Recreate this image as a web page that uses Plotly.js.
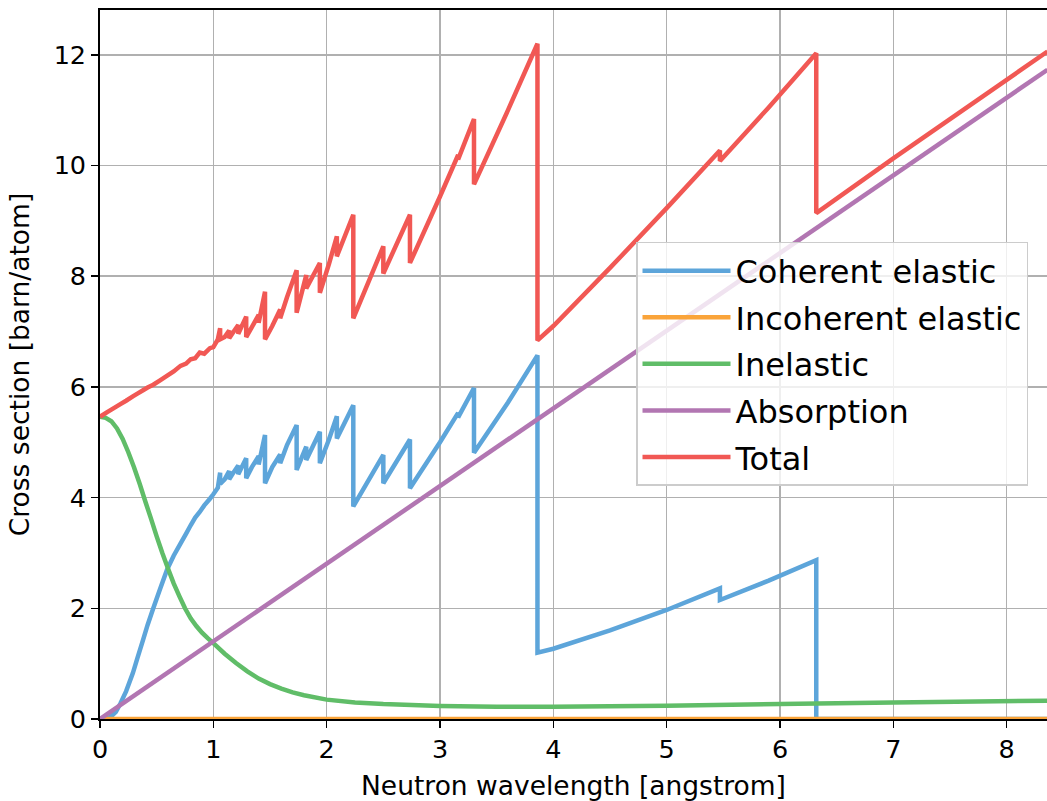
<!DOCTYPE html>
<html>
<head>
<meta charset="utf-8">
<script src="https://cdn.plot.ly/plotly-3.0.1.min.js"></script>
<style>html,body{margin:0;padding:0;background:#fff;}#chart{width:1047px;height:801px;}</style>
</head>
<body>
<div id="chart"></div>
<script>
// Neutron wavelength grid [angstrom] for coherent elastic and total (repeated values = Bragg edges)
const wavelength = [
  0, 0.06, 0.10, 0.14, 0.18, 0.23, 0.29, 0.33, 0.38, 0.42, 0.47, 0.53, 0.59, 0.65, 0.71, 0.76, 0.80,
  0.84, 0.88, 0.92, 0.97, 1.00, 1.04,
  1.06, 1.06, 1.10, 1.14, 1.14, 1.18, 1.22, 1.22, 1.29, 1.29, 1.34, 1.40, 1.40, 1.456, 1.456,
  1.52, 1.59, 1.59, 1.65, 1.735, 1.735, 1.82, 1.82, 1.94, 1.94, 2.02, 2.09, 2.09, 2.235, 2.235,
  2.50, 2.50, 2.735, 2.735, 3.00, 3.16, 3.16, 3.30, 3.30, 3.60, 3.86, 3.86,
  4.00, 4.50, 5.00, 5.47, 5.47, 5.90, 6.32, 6.32, 7.00, 8.36
];
const coherentElastic = [
  0, 0, 0.05, 0.13, 0.28, 0.50, 0.83, 1.10, 1.43, 1.70, 2.00, 2.35, 2.69, 2.95, 3.17, 3.35, 3.50,
  3.64, 3.74, 3.86, 3.98, 4.06, 4.18,
  4.45, 4.25, 4.33, 4.48, 4.33, 4.46, 4.58, 4.42, 4.71, 4.35, 4.55, 4.75, 4.60, 5.13, 4.26,
  4.55, 4.78, 4.62, 4.95, 5.31, 4.50, 4.92, 4.68, 5.19, 4.62, 5.05, 5.47, 5.07, 5.67, 3.84,
  4.77, 4.26, 5.05, 4.17, 5.00, 5.53, 5.45, 5.98, 4.81, 5.72, 6.57, 1.20,
  1.27, 1.60, 1.97, 2.36, 2.15, 2.50, 2.87, 0, 0, 0
];
const total = [
  5.46, 5.54, 5.59, 5.64, 5.69, 5.75, 5.83, 5.88, 5.94, 5.99, 6.04, 6.12, 6.20, 6.28, 6.38, 6.42, 6.50,
  6.52, 6.62, 6.60, 6.70, 6.72, 6.86,
  7.06, 6.86, 6.90, 7.02, 6.88, 7.00, 7.12, 6.96, 7.27, 6.90, 7.08, 7.30, 7.16, 7.72, 6.86,
  7.10, 7.40, 7.24, 7.62, 8.11, 7.34, 8.02, 7.78, 8.24, 7.70, 8.22, 8.72, 8.36, 9.11, 7.24,
  8.54, 8.05, 9.11, 8.24, 9.44, 10.19, 10.11, 10.84, 9.66, 11.00, 12.20, 6.84,
  7.10, 8.15, 9.23, 10.27, 10.08, 11.05, 12.03, 9.14, 10.13, 12.06
];
// Inelastic has its own (smooth) wavelength grid
const inelasticWavelength = [
  0, 0.05, 0.10, 0.15, 0.20, 0.25, 0.30, 0.35, 0.40, 0.45, 0.50, 0.55, 0.60, 0.65, 0.70, 0.75, 0.80,
  0.85, 0.90, 0.95, 1.00, 1.10, 1.20, 1.30, 1.40, 1.50, 1.60, 1.70, 1.80, 2.00, 2.25, 2.50, 3.00,
  3.50, 4.00, 5.00, 6.00, 7.00, 8.36
];
const inelastic = [
  5.46, 5.44, 5.38, 5.25, 5.06, 4.82, 4.55, 4.25, 3.93, 3.62, 3.30, 3.00, 2.72, 2.45, 2.22, 2.00, 1.82,
  1.68, 1.56, 1.46, 1.37, 1.18, 1.01, 0.86, 0.73, 0.63, 0.55, 0.48, 0.43, 0.35, 0.30, 0.27, 0.235,
  0.22, 0.22, 0.24, 0.27, 0.30, 0.33
];
const absorptionWavelength = [0, 8.36];
const absorption = [0, 11.73];
const incoherentWavelength = [0, 8.36];
const incoherentElastic = [0, 0];

const seriesNames = ["Coherent elastic", "Incoherent elastic", "Inelastic", "Absorption", "Total"];
const seriesColors = ["#5DA5DA", "#FAA43A", "#60BD68", "#B276B2", "#F15854"];

const xTicks = [0, 1, 2, 3, 4, 5, 6, 7, 8];
const yTicks = [0, 2, 4, 6, 8, 10, 12];

const xs = [wavelength, incoherentWavelength, inelasticWavelength, absorptionWavelength, wavelength];
const ys = [coherentElastic, incoherentElastic, inelastic, absorption, total];

const traces = seriesNames.map((name, i) => ({
  type: "scatter",
  mode: "lines",
  name: name,
  legendgroup: "g" + i,
  x: xs[i],
  y: ys[i],
  line: {color: seriesColors[i], width: 4.5, simplify: false},
  hoverinfo: "skip"
}));

const font = "DejaVu Sans, sans-serif";
const layout = {
  width: 1047,
  height: 801,
  margin: {l: 100, r: 0, t: 10, b: 82, pad: 0},
  paper_bgcolor: "#ffffff",
  plot_bgcolor: "#ffffff",
  showlegend: true,
  font: {family: font, color: "#000000", size: 26},
  xaxis: {
    range: [0, 8.356],
    tickvals: xTicks,
    ticktext: xTicks.map(String),
    showgrid: true,
    gridcolor: "#b0b0b0",
    gridwidth: 1.5,
    zeroline: false,
    showline: true,
    mirror: true,
    linecolor: "#000000",
    linewidth: 1.8,
    ticks: "outside",
    ticklen: 7,
    tickwidth: 1.5,
    tickcolor: "#000000",
    tickfont: {family: font, size: 25.5, color: "#000000"},
    title: {text: "Neutron wavelength [angstrom]", font: {family: font, size: 26.5, color: "#000000"}, standoff: 13},
    automargin: false
  },
  yaxis: {
    range: [0, 12.81],
    tickvals: yTicks,
    ticktext: yTicks.map(String),
    showgrid: true,
    gridcolor: "#b0b0b0",
    gridwidth: 1.5,
    zeroline: false,
    showline: true,
    mirror: false,
    linecolor: "#000000",
    linewidth: 1.8,
    ticks: "outside",
    ticklen: 7,
    tickwidth: 1.5,
    tickcolor: "#000000",
    tickfont: {family: font, size: 25.5, color: "#000000"},
    title: {text: "Cross section [barn/atom]", font: {family: font, size: 26.5, color: "#000000"}, standoff: 16},
    automargin: false
  },
  legend: {
    x: 0.566,
    y: 0.673,
    xanchor: "left",
    yanchor: "top",
    bgcolor: "rgba(255,255,255,0.8)",
    bordercolor: "#cccccc",
    borderwidth: 1.5,
    font: {family: font, size: 32, color: "#000000"},
    itemwidth: 88,
    traceorder: "grouped",
    tracegroupgap: 2
  }
};

Plotly.newPlot("chart", traces, layout, {displayModeBar: false, staticPlot: true});
</script>
</body>
</html>
